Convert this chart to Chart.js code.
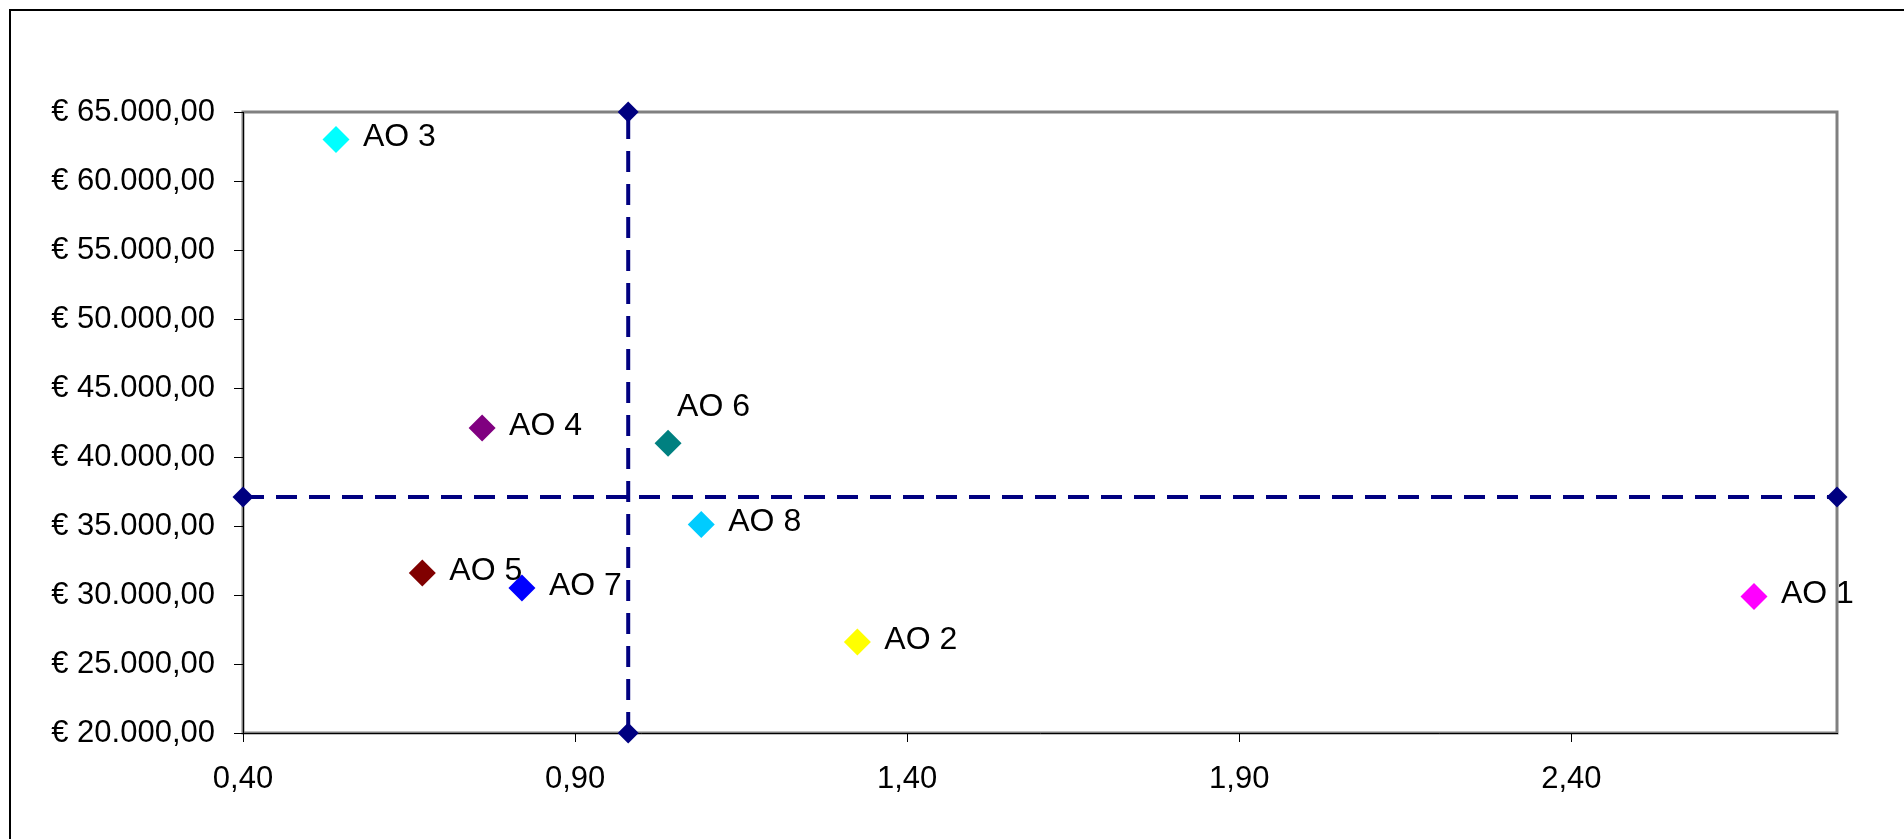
<!DOCTYPE html>
<html>
<head>
<meta charset="utf-8">
<script src="https://cdn.jsdelivr.net/npm/chart.js@4"></script>
<style>
  html, body { margin: 0; padding: 0; background: #ffffff; }
  #wrap { width: 1904px; height: 839px; position: relative; }
</style>
</head>
<body>
<div id="wrap"><canvas id="chart" width="1904" height="839"></canvas></div>
<script>
// Offices: cost per office against ratio
const categories = ['AO 1', 'AO 2', 'AO 3', 'AO 4', 'AO 5', 'AO 6', 'AO 7', 'AO 8'];
const ratioValues = [2.675, 1.325, 0.54, 0.76, 0.67, 1.04, 0.82, 1.09];
const costValues  = [29900, 26600, 63000, 42100, 31600, 41000, 30500, 35100];
const pointColors = ['#FF00FF', '#FFFF00', '#00FFFF', '#800080', '#800000', '#008080', '#0000FF', '#00CCFF'];
const labelAlign  = ['right', 'right', 'right', 'right', 'right', 'above', 'right', 'right'];

// Reference cross lines
const refRatio = 0.98;
const refCost = 37100;

// Axis ranges and tick labels
const xMin = 0.40, xMax = 2.80;
const yMin = 20000, yMax = 65000;
const xTickValues = [0.40, 0.90, 1.40, 1.90, 2.40];
const yTickValues = [20000, 25000, 30000, 35000, 40000, 45000, 50000, 55000, 60000, 65000];

const FONT = '"Liberation Sans", Arial, sans-serif';
const NAVY = '#000080';

function euro(v) {
  const s = Math.round(v).toString().replace(/\B(?=(\d{3})+(?!\d))/g, '.');
  return '\u20AC ' + s + ',00';
}
function ratio(v) {
  return v.toFixed(2).replace('.', ',');
}

const pointSets = categories.map((name, i) => ({
  label: name,
  data: [{ x: ratioValues[i], y: costValues[i] }],
  pointStyle: 'rectRot',
  pointRadius: 13.5,
  pointBackgroundColor: pointColors[i],
  pointBorderColor: pointColors[i],
  pointBorderWidth: 0,
  showLine: false,
  clip: false,
  order: 1
}));

function crossLine(name, points) {
  return {
    label: name,
    data: points,
    showLine: true,
    borderColor: NAVY,
    borderWidth: 4,
    borderDash: [21, 12],
    pointStyle: 'rectRot',
    pointRadius: 10.5,
    pointBackgroundColor: NAVY,
    pointBorderColor: NAVY,
    pointBorderWidth: 0,
    clip: false,
    order: 2
  };
}

const crossSets = [
  crossLine('ref-v', [{ x: refRatio, y: yMin }, { x: refRatio, y: yMax }]),
  crossLine('ref-h', [{ x: xMin, y: refCost }, { x: xMax, y: refCost }])
];

// Outer frame and plot-area border
const framePlugin = {
  id: 'frame',
  beforeDraw(chart) {
    const ctx = chart.ctx;
    const a = chart.chartArea;
    ctx.save();
    ctx.fillStyle = '#ffffff';
    ctx.fillRect(0, 0, chart.width, chart.height);
    ctx.strokeStyle = '#000000';
    ctx.lineWidth = 2;
    ctx.beginPath();
    ctx.moveTo(10, chart.height);
    ctx.lineTo(10, 10);
    ctx.lineTo(chart.width, 10);
    ctx.stroke();
    ctx.strokeStyle = '#808080';
    ctx.lineWidth = 3;
    ctx.strokeRect(a.left, a.top, a.right - a.left, a.bottom - a.top);
    ctx.restore();
  }
};

// Point name labels
const namePlugin = {
  id: 'names',
  afterDatasetsDraw(chart) {
    const ctx = chart.ctx;
    const xs = chart.scales.x, ys = chart.scales.y;
    ctx.save();
    ctx.font = '32px ' + FONT;
    ctx.fillStyle = '#000000';
    ctx.textAlign = 'left';
    ctx.textBaseline = 'middle';
    categories.forEach((name, i) => {
      const px = xs.getPixelForValue(ratioValues[i]);
      const py = ys.getPixelForValue(costValues[i]);
      if (labelAlign[i] === 'above') {
        ctx.fillText(name, px + 9, py - 36);
      } else {
        ctx.fillText(name, px + 27, py - 2);
      }
    });
    ctx.restore();
  }
};

new Chart(document.getElementById('chart'), {
  type: 'scatter',
  data: { datasets: crossSets.concat(pointSets) },
  options: {
    responsive: false,
    animation: false,
    events: [],
    layout: { padding: { left: 0, top: 112, right: 67, bottom: 0 } },
    plugins: {
      legend: { display: false },
      tooltip: { enabled: false }
    },
    scales: {
      x: {
        type: 'linear',
        min: xMin,
        max: xMax,
        afterBuildTicks(scale) { scale.ticks = xTickValues.map(v => ({ value: v })); },
        afterFit(scale) { scale.height = 106; },
        grid: { drawOnChartArea: false, drawTicks: true, tickLength: 9, color: '#000000', lineWidth: 1 },
        border: { display: true, color: '#000000', width: 1 },
        ticks: {
          color: '#000000',
          font: { family: FONT, size: 31 },
          padding: 19,
          maxRotation: 0,
          callback: v => ratio(v)
        }
      },
      y: {
        type: 'linear',
        min: yMin,
        max: yMax,
        afterBuildTicks(scale) { scale.ticks = yTickValues.map(v => ({ value: v })); },
        afterFit(scale) { scale.width = 243; },
        grid: { drawOnChartArea: false, drawTicks: true, tickLength: 9, color: '#000000', lineWidth: 1 },
        border: { display: true, color: '#000000', width: 1 },
        ticks: {
          color: '#000000',
          font: { family: FONT, size: 31 },
          padding: 19,
          callback: v => euro(v)
        }
      }
    }
  },
  plugins: [framePlugin, namePlugin]
});
</script>
</body>
</html>
